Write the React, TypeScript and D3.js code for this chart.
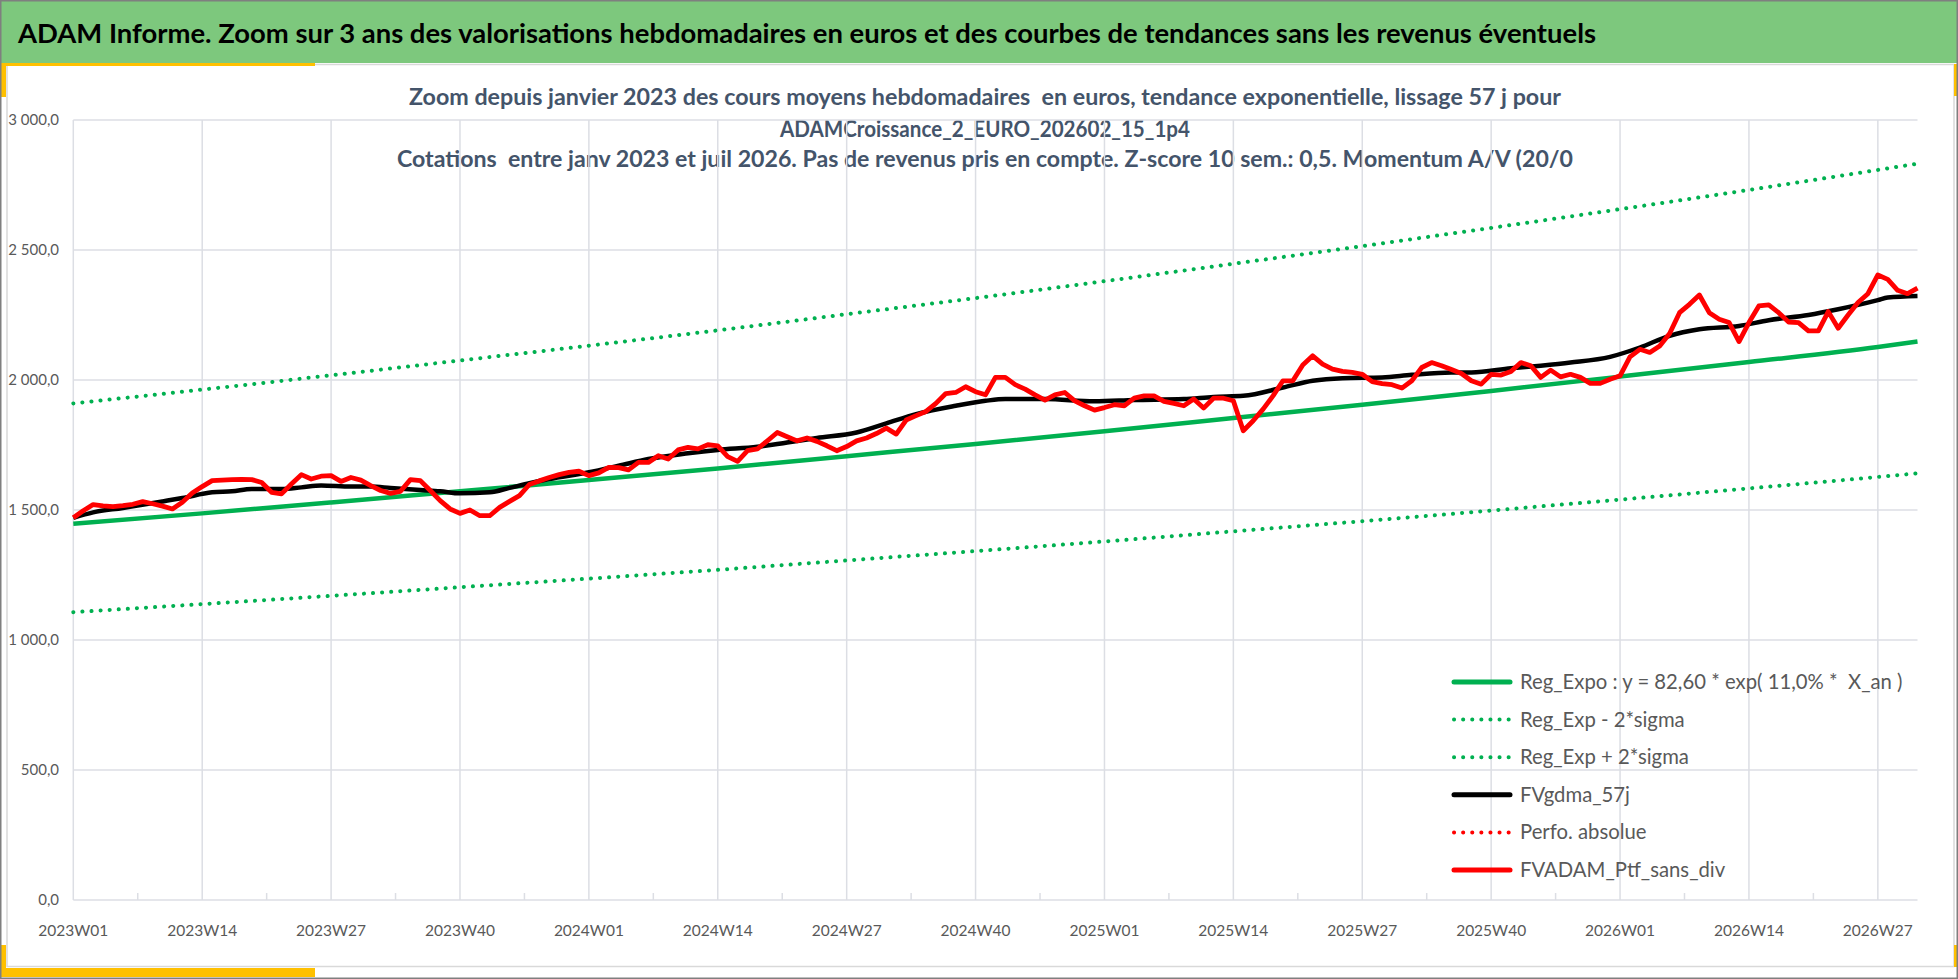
import React, { useEffect, useRef } from 'react';
import * as d3 from 'd3';

const WIDTH = 1958;
const HEIGHT = 979;

const title =
  'ADAM Informe. Zoom sur 3 ans des valorisations hebdomadaires en euros et des courbes de tendances sans les revenus éventuels';
const subtitle = [
  'Zoom depuis janvier 2023 des cours moyens hebdomadaires  en euros, tendance exponentielle, lissage 57 j pour',
  'ADAMCroissance_2_EURO_202602_15_1p4',
  'Cotations  entre janv 2023 et juil 2026. Pas de revenus pris en compte. Z-score 10 sem.: 0,5. Momentum A/V (20/0',
];

// weekly categories, 2023W01 .. 2026W31
const weeks: string[] = [];
[2023, 2024, 2025, 2026].forEach((yr) => {
  for (let w = 1; w <= 52; w++) weeks.push(`${yr}W${String(w).padStart(2, '0')}`);
});
weeks.length = 187;

const tickLabels = [
  '2023W01', '2023W14', '2023W27', '2023W40',
  '2024W01', '2024W14', '2024W27', '2024W40',
  '2025W01', '2025W14', '2025W27', '2025W40',
  '2026W01', '2026W14', '2026W27',
];
const yTicks = [0, 500, 1000, 1500, 2000, 2500, 3000];

// trend curves, read every 13 weeks (+ last week)
const regWeeks = [...tickLabels, '2026W31'];
const regExpo = [1447, 1487, 1529, 1572, 1615, 1660, 1707, 1754, 1803, 1854, 1905, 1958, 2013, 2069, 2127, 2148];
const regUpper = [1910, 1963, 2018, 2075, 2132, 2191, 2253, 2315, 2380, 2447, 2515, 2585, 2657, 2731, 2808, 2832];
const regLower = [1107, 1138, 1170, 1203, 1236, 1270, 1306, 1342, 1379, 1418, 1457, 1498, 1540, 1583, 1627, 1641];

// FVgdma_57j, read at these week indexes
const maIdx = [0, 2, 5, 9, 11, 14, 16, 18, 21, 23, 25, 28, 30, 32, 35, 37, 39, 42, 44, 46, 48, 52, 55, 58, 62, 65, 69, 72, 75, 79, 82, 85, 89, 92, 94, 98, 103, 107, 112, 115, 118, 122, 125, 128, 132, 135, 139, 141, 145, 148, 151, 155, 158, 161, 164, 168, 171, 175, 178, 182, 183, 186];
const maValues = [1470, 1491, 1508, 1533, 1546, 1568, 1572, 1581, 1581, 1587, 1594, 1590, 1590, 1585, 1577, 1572, 1564, 1568, 1585, 1603, 1619, 1645, 1670, 1696, 1718, 1731, 1743, 1760, 1777, 1798, 1833, 1869, 1901, 1920, 1927, 1927, 1918, 1923, 1927, 1935, 1939, 1971, 1997, 2007, 2010, 2020, 2029, 2029, 2045, 2055, 2067, 2089, 2125, 2170, 2195, 2208, 2230, 2250, 2272, 2307, 2317, 2323];

// FVADAM_Ptf_sans_div, weekly
const ptf = [
  1470, 1497, 1521, 1516, 1513, 1517, 1522, 1532, 1524, 1515, 1504, 1530, 1565,
  1590, 1613, 1615, 1617, 1618, 1617, 1606, 1568, 1562, 1600, 1636, 1619, 1630,
  1632, 1610, 1625, 1615, 1594, 1575, 1564, 1572, 1617, 1613, 1575, 1536, 1504,
  1487, 1500, 1478, 1478, 1510, 1533, 1555, 1598, 1612, 1625, 1636, 1645, 1649,
  1632, 1643, 1664, 1663, 1654, 1683, 1683, 1709, 1696, 1731, 1741, 1735, 1751,
  1747, 1705, 1687, 1728, 1735, 1766, 1798, 1782, 1766, 1777, 1764, 1747, 1728,
  1744, 1766, 1777, 1794, 1815, 1792, 1846, 1863, 1879, 1910, 1948, 1952, 1974,
  1955, 1943, 2010, 2010, 1982, 1965, 1943, 1923, 1943, 1952, 1920, 1901, 1884,
  1894, 1905, 1901, 1930, 1939, 1939, 1918, 1910, 1901, 1927, 1892, 1930, 1930,
  1920, 1805, 1843, 1888, 1939, 1997, 1997, 2058, 2093, 2061, 2042, 2033, 2029,
  2022, 1994, 1986, 1982, 1969, 1997, 2048, 2067, 2055, 2040, 2025, 1997, 1984,
  2022, 2019, 2033, 2067, 2055, 2010, 2038, 2012, 2022, 2010, 1987, 1987, 2003,
  2016, 2089, 2118, 2106, 2131, 2179, 2259, 2291, 2327, 2259, 2234, 2221, 2148,
  2221, 2285, 2289, 2259, 2223, 2221, 2189, 2189, 2263, 2199, 2250, 2298, 2332,
  2404, 2387, 2345, 2332, 2353,
];

const legendItems = [
  { label: 'Reg_Expo : y = 82,60 * exp( 11,0% *  X_an )', color: '#00B050', dotted: false },
  { label: 'Reg_Exp - 2*sigma', color: '#00B050', dotted: true },
  { label: 'Reg_Exp + 2*sigma', color: '#00B050', dotted: true },
  { label: 'FVgdma_57j', color: '#000000', dotted: false },
  { label: 'Perfo. absolue', color: '#FF0000', dotted: true },
  { label: 'FVADAM_Ptf_sans_div', color: '#FF0000', dotted: false },
];

const FONT = 'Lato, "Open Sans", sans-serif';
const GREEN = '#00B050';
const ORANGE = '#FFC000';

const App: React.FC = () => {
  const svgRef = useRef<SVGSVGElement>(null);

  useEffect(() => {
    if (!svgRef.current) return;
    const svg = d3.select(svgRef.current);
    svg.selectAll('*').remove();

    const left = 73.3;
    const right = 1917.5;
    const top = 120;
    const bottom = 900;

    const x = d3.scalePoint<string>().domain(weeks).range([left, right]);
    const y = d3.scaleLinear().domain([0, 3000]).range([bottom, top]);
    const fr = d3.formatLocale({ decimal: ',', thousands: ' ', grouping: [3], currency: ['', '€'] });
    const fmt = fr.format(',.1f');

    // frame
    svg.append('rect').attr('width', WIDTH).attr('height', HEIGHT).attr('fill', '#fff');
    svg.append('rect').attr('width', WIDTH).attr('height', 63).attr('fill', '#7DC87D');
    svg.append('rect')
      .attr('x', 7).attr('y', 64.5).attr('width', 1947).attr('height', 902)
      .attr('fill', 'none').attr('stroke', '#D9D9D9').attr('stroke-width', 1.5);
    [
      [0, 63, 315, 3], [0, 63, 6, 34], [0, 968, 315, 9], [0, 945, 6, 32],
      [1954, 64, 3, 32], [1954, 945, 3, 22],
    ].forEach(([rx, ry, rw, rh]) => {
      svg.append('rect').attr('x', rx).attr('y', ry).attr('width', rw).attr('height', rh).attr('fill', ORANGE);
    });
    svg.append('rect')
      .attr('x', 0.75).attr('y', 0.75).attr('width', WIDTH - 1.5).attr('height', HEIGHT - 1.5)
      .attr('fill', 'none').attr('stroke', '#7F7F7F').attr('stroke-width', 1.5);

    // titles
    svg.append('text')
      .attr('x', 18).attr('y', 43)
      .attr('textLength', 1578).attr('lengthAdjust', 'spacingAndGlyphs')
      .attr('font-family', FONT).attr('font-size', 27).attr('font-weight', 'bold')
      .attr('fill', '#000')
      .text(title);

    const subWidths = [1152, 410, 1176];
    const subY = [105, 137, 167];
    subtitle.forEach((s, i) => {
      svg.append('text')
        .attr('x', 985).attr('y', subY[i])
        .attr('text-anchor', 'middle')
        .attr('textLength', subWidths[i]).attr('lengthAdjust', 'spacingAndGlyphs')
        .attr('font-family', FONT).attr('font-size', 22.5).attr('font-weight', 'bold')
        .attr('fill', '#44546A')
        .style('white-space', 'pre')
        .text(s);
    });

    // grid
    const grid = svg.append('g').attr('stroke', '#DCDEE4').attr('stroke-width', 1.5);
    yTicks.forEach((v) => {
      grid.append('line').attr('x1', left).attr('x2', right).attr('y1', y(v)).attr('y2', y(v));
    });
    tickLabels.forEach((l) => {
      grid.append('line').attr('x1', x(l)!).attr('x2', x(l)!).attr('y1', top).attr('y2', bottom);
    });
    tickLabels.slice(1).forEach((l, i) => {
      const mx = (x(tickLabels[i])! + x(l)!) / 2;
      grid.append('line').attr('x1', mx).attr('x2', mx).attr('y1', bottom).attr('y2', bottom - 7);
    });

    // axis labels
    svg.append('g')
      .selectAll('text')
      .data(yTicks)
      .enter()
      .append('text')
      .attr('x', 59)
      .attr('y', (d) => y(d) + 5)
      .attr('text-anchor', 'end')
      .attr('font-family', FONT).attr('font-size', 15).attr('fill', '#595959')
      .text((d) => fmt(d));

    svg.append('g')
      .selectAll('text')
      .data(tickLabels)
      .enter()
      .append('text')
      .attr('x', (d) => x(d)!)
      .attr('y', 936)
      .attr('text-anchor', 'middle')
      .attr('font-family', FONT).attr('font-size', 15.5).attr('fill', '#595959')
      .text((d) => d);

    // series
    const anchorLine = d3
      .line<number>()
      .x((_, i) => x(regWeeks[i])!)
      .y((d) => y(d))
      .curve(d3.curveMonotoneX);

    svg.append('path').attr('d', anchorLine(regExpo)!)
      .attr('fill', 'none').attr('stroke', GREEN).attr('stroke-width', 4.5)
      .attr('stroke-linejoin', 'round');

    [regLower, regUpper].forEach((band) => {
      svg.append('path').attr('d', anchorLine(band)!)
        .attr('fill', 'none').attr('stroke', GREEN).attr('stroke-width', 4)
        .attr('stroke-dasharray', '0.1 9').attr('stroke-linecap', 'round');
    });

    const maLine = d3
      .line<number>()
      .x((_, i) => x(weeks[maIdx[i]])!)
      .y((d) => y(d))
      .curve(d3.curveMonotoneX);
    svg.append('path').attr('d', maLine(maValues)!)
      .attr('fill', 'none').attr('stroke', '#000').attr('stroke-width', 4.5)
      .attr('stroke-linejoin', 'round');

    const weekLine = d3
      .line<number>()
      .x((_, i) => x(weeks[i])!)
      .y((d) => y(d));
    svg.append('path').attr('d', weekLine(ptf)!)
      .attr('fill', 'none').attr('stroke', '#FF0000').attr('stroke-width', 4.8)
      .attr('stroke-linejoin', 'round');

    // legend
    const legend = svg.append('g').attr('transform', 'translate(1452, 682)');
    legendItems.forEach((item, i) => {
      const row = legend.append('g').attr('transform', `translate(0, ${i * 37.6})`);
      const ln = row.append('line')
        .attr('x1', 2).attr('x2', 58).attr('y1', 0).attr('y2', 0)
        .attr('stroke', item.color);
      if (item.dotted) {
        ln.attr('stroke-width', 4).attr('stroke-dasharray', '0.1 9').attr('stroke-linecap', 'round');
      } else {
        ln.attr('stroke-width', 5).attr('stroke-linecap', 'round');
      }
      row.append('text')
        .attr('x', 68).attr('y', 7)
        .attr('font-family', FONT).attr('font-size', 20.3).attr('fill', '#595959')
        .style('white-space', 'pre')
        .text(item.label);
    });
  }, []);

  return (
    <svg
      ref={svgRef}
      width={WIDTH}
      height={HEIGHT}
      style={{ position: 'absolute', left: 0, top: 0, display: 'block' }}
    />
  );
};

export default App;
